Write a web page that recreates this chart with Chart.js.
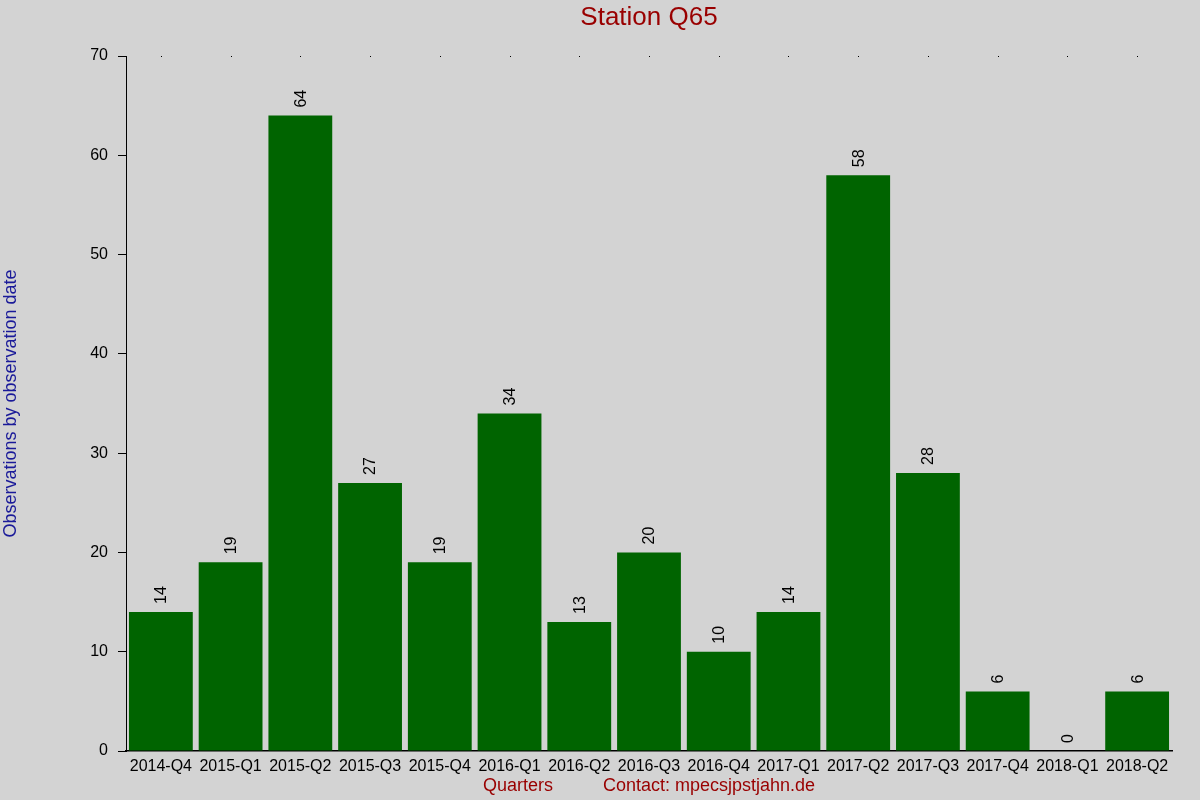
<!DOCTYPE html>
<html lang="en">
<head>
    <meta charset="UTF-8">
    <title>Station Q65</title>
    <script src="https://cdn.jsdelivr.net/npm/chart.js"></script>
    <style>
        html, body { margin: 0; padding: 0; background: #d3d3d3; }
        .chart-container { width: 1200px; height: 800px; }
    </style>
</head>
<body>
    <div class="chart-container">
        <canvas id="myChart"></canvas>
    </div>
    <script>
        const quarters = ['2014-Q4', '2015-Q1', '2015-Q2', '2015-Q3', '2015-Q4',
                          '2016-Q1', '2016-Q2', '2016-Q3', '2016-Q4', '2017-Q1',
                          '2017-Q2', '2017-Q3', '2017-Q4', '2018-Q1', '2018-Q2'];
        const observations = [14, 19, 64, 27, 19, 34, 13, 20, 10, 14, 58, 28, 6, 0, 6];
        const yTicks = [0, 10, 20, 30, 40, 50, 60, 70];

        const FONT = 'Liberation Sans, Arial, sans-serif';

        // Rotated value labels above each bar
        const valueLabels = {
            id: 'valueLabels',
            afterDatasetsDraw(chart) {
                const ctx = chart.ctx;
                const meta = chart.getDatasetMeta(0);
                ctx.save();
                ctx.font = '16px ' + FONT;
                ctx.fillStyle = '#000';
                ctx.textAlign = 'left';
                ctx.textBaseline = 'middle';
                meta.data.forEach((bar, i) => {
                    ctx.save();
                    ctx.translate(bar.x, bar.y - 8);
                    ctx.rotate(-Math.PI / 2);
                    ctx.fillText(String(observations[i]), 0, 1);
                    ctx.restore();
                });
                ctx.restore();
            }
        };

        // Small dots along the top edge at each category centre
        const topDots = {
            id: 'topDots',
            afterDraw(chart) {
                const ctx = chart.ctx;
                const x = chart.scales.x;
                ctx.save();
                ctx.fillStyle = '#000';
                quarters.forEach((q, i) => {
                    const px = Math.round(x.getPixelForValue(i));
                    ctx.fillRect(px, chart.chartArea.top, 1, 1);
                });
                ctx.restore();
            }
        };

        const ctx = document.getElementById('myChart').getContext('2d');
        new Chart(ctx, {
            type: 'bar',
            data: {
                labels: quarters,
                datasets: [{
                    label: 'Observations',
                    data: observations,
                    backgroundColor: '#006400',
                    borderWidth: 0,
                    barPercentage: 1.0,
                    categoryPercentage: 0.915
                }]
            },
            options: {
                responsive: true,
                maintainAspectRatio: false,
                animation: false,
                layout: { padding: { left: 0, right: 28, top: 0, bottom: 0 } },
                plugins: {
                    legend: { display: false },
                    tooltip: { enabled: false },
                    title: { display: false }
                },
                scales: {
                    // top axis only carries the chart title, centred over the plot
                    xTop: {
                        type: 'category',
                        position: 'top',
                        labels: quarters,
                        afterFit(scale) { scale.height = 56; },
                        grid: { display: false },
                        border: { display: false },
                        ticks: { display: false },
                        title: {
                            display: true,
                            text: 'Station Q65',
                            color: '#990000',
                            font: { family: FONT, size: 26 },
                            padding: { top: 2, bottom: 0 }
                        }
                    },
                    x: {
                        afterFit(scale) { scale.height = 49; },
                        grid: { display: false },
                        border: { display: true, color: '#000', width: 1.5 },
                        ticks: {
                            color: '#000',
                            font: { family: FONT, size: 16 },
                            padding: -2,
                            maxRotation: 0,
                            autoSkip: false
                        },
                        title: {
                            display: true,
                            text: 'Quarters          Contact: mpecsjpstjahn.de',
                            color: '#990000',
                            font: { family: FONT, size: 18 },
                            padding: { top: 0, bottom: 3 }
                        }
                    },
                    y: {
                        min: 0,
                        max: 70,
                        afterFit(scale) { scale.width = 126; },
                        afterBuildTicks(scale) { scale.ticks = yTicks.map(v => ({ value: v })); },
                        grid: {
                            drawOnChartArea: false,
                            drawTicks: true,
                            tickLength: 8,
                            color: '#000'
                        },
                        border: { display: true, color: '#000', width: 1 },
                        ticks: {
                            color: '#000',
                            font: { family: FONT, size: 16 },
                            padding: 10
                        },
                        title: {
                            display: true,
                            text: 'Observations by observation date',
                            color: '#1a1a99',
                            font: { family: FONT, size: 18 },
                            padding: { top: 0, bottom: 0 }
                        }
                    }
                }
            },
            plugins: [valueLabels, topDots]
        });
    </script>
</body>
</html>
